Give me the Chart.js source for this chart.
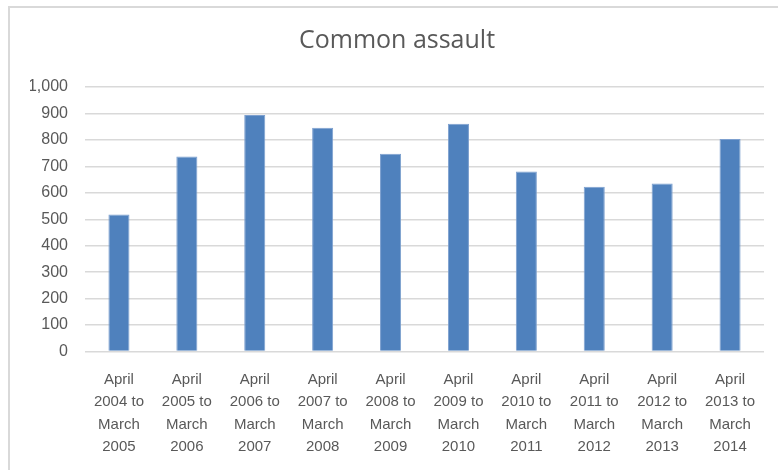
<!DOCTYPE html>
<html>
<head>
<meta charset="utf-8">
<script src="https://cdn.jsdelivr.net/npm/chart.js@4"></script>
<style>
  body { margin: 0; background: #fff; }
  #wrap { position: relative; width: 778px; height: 470px; overflow: hidden; }
  #frame {
    position: absolute; left: 8px; top: 6px; width: 800px; height: 500px;
    border-left: 2px solid #d9d9d9; border-top: 2px solid #d9d9d9;
  }
  canvas { position: absolute; left: 0; top: 0; }
</style>
</head>
<body>
<div id="wrap">
  <div id="frame"></div>
  <canvas id="chart" width="778" height="470"></canvas>
</div>
<script>
// chart values
const periods = [
  ["April", "2004 to", "March", "2005"],
  ["April", "2005 to", "March", "2006"],
  ["April", "2006 to", "March", "2007"],
  ["April", "2007 to", "March", "2008"],
  ["April", "2008 to", "March", "2009"],
  ["April", "2009 to", "March", "2010"],
  ["April", "2010 to", "March", "2011"],
  ["April", "2011 to", "March", "2012"],
  ["April", "2012 to", "March", "2013"],
  ["April", "2013 to", "March", "2014"]
];
const assaults = [518, 737, 894, 846, 748, 861, 681, 623, 635, 803];
const yMin = 0;
const yMax = 1000;
const yStep = 100;

const textColor = "#595959";

const ctx = document.getElementById("chart").getContext("2d");
new Chart(ctx, {
  type: "bar",
  data: {
    labels: periods,
    datasets: [{
      data: assaults,
      backgroundColor: "#4f81bd",
      borderColor: "#7da0cf",
      borderWidth: 1,
      categoryPercentage: 1,
      barPercentage: 0.31
    }]
  },
  options: {
    responsive: false,
    animation: false,
    // left padding pushes the title centre to the right like the original
    layout: { padding: { left: 30, right: 14, top: 0, bottom: 0 } },
    plugins: {
      legend: { display: false },
      tooltip: { enabled: false },
      title: {
        display: true,
        text: "Common assault",
        color: textColor,
        font: { family: "'Open Sans', sans-serif", size: 25, weight: "normal" },
        padding: { top: 26, bottom: 31 }
      }
    },
    scales: {
      x: {
        grid: { display: false, drawTicks: false },
        border: { display: false },
        ticks: {
          color: textColor,
          autoSkip: false,
          maxRotation: 0,
          padding: 17,
          font: { family: "'Liberation Sans', sans-serif", size: 15, lineHeight: 1.5 }
        },
        afterFit: (scale) => { scale.height = 118.5; }
      },
      y: {
        min: yMin,
        max: yMax,
        grid: { color: "#d9d9d9", lineWidth: 1.5, drawTicks: false },
        border: { display: false },
        ticks: {
          stepSize: yStep,
          color: textColor,
          padding: 17,
          font: { family: "'Liberation Sans', sans-serif", size: 16 },
          callback: (v) => v.toLocaleString("en-US")
        },
        afterFit: (scale) => { scale.width = 55; }
      }
    }
  }
});
</script>
</body>
</html>
